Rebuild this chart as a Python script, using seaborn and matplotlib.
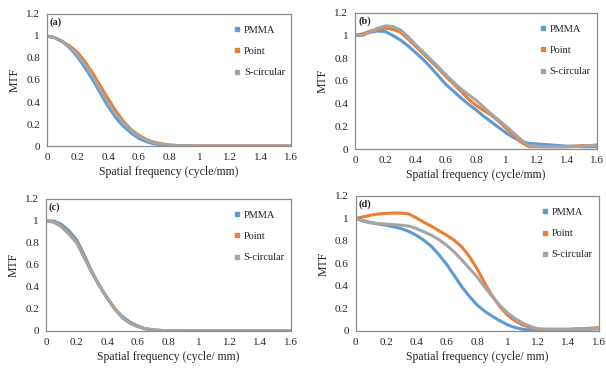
import numpy as np
import pandas as pd
import matplotlib
matplotlib.use("Agg")
import matplotlib.pyplot as plt
from matplotlib.lines import Line2D
import seaborn as sns

# spatial frequency samples (cycle/mm)
freq = np.round(np.linspace(0, 1.6, 33), 2)

# (a)
a_pmma = [1.0, 0.985, 0.95, 0.89, 0.81, 0.71, 0.60, 0.48, 0.36, 0.26, 0.18, 0.12, 0.07, 0.04, 0.02, 0.01, 0.005,
          0.002, 0.001, 0, 0, 0, 0, 0, 0, 0, 0, 0, 0, 0, 0, 0, 0]
a_point = [1.0, 0.985, 0.95, 0.91, 0.85, 0.765, 0.66, 0.545, 0.43, 0.32, 0.225, 0.15, 0.10, 0.06, 0.035, 0.02, 0.01,
           0.005, 0.002, 0.001, 0, 0, 0, 0, 0, 0, 0, 0, 0, 0, 0, 0, 0]
a_scirc = [1.0, 0.985, 0.95, 0.90, 0.83, 0.74, 0.63, 0.51, 0.39, 0.29, 0.21, 0.14, 0.09, 0.055, 0.03, 0.017, 0.008,
           0.004, 0.002, 0.001, 0, 0, 0, 0, 0, 0, 0, 0, 0, 0, 0, 0, 0]

# (b)
b_pmma = [1.0, 1.01, 1.03, 1.04, 1.035, 1.0, 0.96, 0.91, 0.85, 0.79, 0.72, 0.645, 0.57, 0.51, 0.45, 0.395, 0.345,
          0.29, 0.24, 0.19, 0.14, 0.10, 0.065, 0.05, 0.045, 0.04, 0.035, 0.03, 0.025, 0.025, 0.02, 0.02, 0.02]
b_point = [1.0, 1.015, 1.04, 1.055, 1.065, 1.055, 1.03, 0.97, 0.905, 0.84, 0.775, 0.71, 0.64, 0.575, 0.51, 0.44,
           0.385, 0.34, 0.30, 0.245, 0.18, 0.12, 0.06, 0.02, 0.02, 0.02, 0.02, 0.02, 0.02, 0.025, 0.03, 0.03, 0.035]
b_scirc = [1.0, 1.0, 1.03, 1.065, 1.085, 1.08, 1.05, 0.99, 0.92, 0.855, 0.79, 0.725, 0.655, 0.59, 0.53, 0.48,
           0.43, 0.37, 0.31, 0.255, 0.20, 0.14, 0.08, 0.03, 0.025, 0.02, 0.02, 0.02, 0.02, 0.02, 0.025, 0.03, 0.03]

# (c)
c_pmma = [1.0, 1.0, 0.97, 0.91, 0.83, 0.69, 0.54, 0.41, 0.30, 0.20, 0.13, 0.08, 0.045, 0.02, 0.01, 0.005, 0.002,
          0.001, 0, 0, 0, 0, 0, 0, 0, 0, 0, 0, 0, 0, 0, 0, 0]
c_point = [1.0, 0.99, 0.95, 0.89, 0.81, 0.67, 0.53, 0.41, 0.30, 0.20, 0.12, 0.07, 0.04, 0.02, 0.01, 0.005, 0.002,
           0.001, 0, 0, 0, 0, 0, 0, 0, 0, 0, 0, 0, 0, 0, 0, 0]
c_scirc = [1.0, 0.99, 0.95, 0.88, 0.80, 0.67, 0.53, 0.41, 0.30, 0.20, 0.12, 0.07, 0.04, 0.02, 0.01, 0.005, 0.002,
           0.001, 0, 0, 0, 0, 0, 0, 0, 0, 0, 0, 0, 0, 0, 0, 0]

# (d)
d_pmma = [1.0, 0.98, 0.965, 0.95, 0.94, 0.925, 0.91, 0.885, 0.85, 0.805, 0.75, 0.675, 0.59, 0.49, 0.39, 0.305,
          0.23, 0.175, 0.13, 0.09, 0.055, 0.03, 0.015, 0.008, 0.005, 0.005, 0.005, 0.008, 0.01, 0.01, 0.012,
          0.015, 0.02]
d_point = [1.0, 1.015, 1.03, 1.04, 1.046, 1.048, 1.048, 1.04, 1.005, 0.965, 0.93, 0.89, 0.85, 0.805, 0.745, 0.66,
           0.55, 0.425, 0.31, 0.215, 0.14, 0.09, 0.053, 0.03, 0.015, 0.015, 0.015, 0.015, 0.015, 0.02, 0.02,
           0.025, 0.03]
d_scirc = [1.0, 0.975, 0.96, 0.955, 0.95, 0.945, 0.94, 0.933, 0.91, 0.88, 0.85, 0.81, 0.76, 0.70, 0.63, 0.555,
           0.48, 0.39, 0.305, 0.225, 0.16, 0.11, 0.07, 0.04, 0.02, 0.015, 0.015, 0.015, 0.015, 0.015, 0.015,
           0.02, 0.02]

series_names = ["PMMA", "Point", "S-circular"]
colors = {"PMMA": "#5B9BD5", "Point": "#ED7D31", "S-circular": "#A5A5A5"}

panels = [
    ("(a)", "Spatial frequency (cycle/mm)", [a_pmma, a_point, a_scirc], [0.0776, 0.6096, 0.403, 0.353]),
    ("(b)", "Spatial frequency (cycle/mm)", [b_pmma, b_point, b_scirc], [0.586, 0.6016, 0.399, 0.364]),
    ("(c)", "Spatial frequency (cycle/ mm)", [c_pmma, c_point, c_scirc], [0.0759, 0.115, 0.404, 0.353]),
    ("(d)", "Spatial frequency (cycle/ mm)", [d_pmma, d_point, d_scirc], [0.587, 0.115, 0.401, 0.361]),
]

sns.set_style("white")
plt.rcParams["font.family"] = ["Liberation Serif", "DejaVu Serif"]

fig = plt.figure(figsize=(6.06, 3.74), dpi=100)

xticks = [0, 0.2, 0.4, 0.6, 0.8, 1.0, 1.2, 1.4, 1.6]
xticklabels = ["0", "0.2", "0.4", "0.6", "0.8", "1", "1.2", "1.4", "1.6"]
yticks = [0, 0.2, 0.4, 0.6, 0.8, 1.0, 1.2]
yticklabels = ["0", "0.2", "0.4", "0.6", "0.8", "1", "1.2"]

for tag, xlab, vals, pos in panels:
    ax = fig.add_axes(pos)
    df = pd.DataFrame({
        "freq": np.tile(freq, 3),
        "mtf": np.concatenate(vals),
        "sample": np.repeat(series_names, len(freq)),
    })
    sns.lineplot(data=df, x="freq", y="mtf", hue="sample", palette=colors,
                 linewidth=2.2, legend=False, ax=ax)
    ax.set_xlim(0, 1.6)
    ax.set_ylim(0, 1.2)
    ax.set_xticks(xticks)
    ax.set_xticklabels(xticklabels)
    ax.set_yticks(yticks)
    ax.set_yticklabels(yticklabels)
    ax.tick_params(length=0, labelsize=8, pad=5)
    ax.set_xlabel(xlab, fontsize=8.5, labelpad=3)
    ax.set_ylabel("MTF", fontsize=8.5, labelpad=4)
    for s in ax.spines.values():
        s.set_color("#8c8c8c")
        s.set_linewidth(0.9)
    ax.text(0.012, 0.975, tag, transform=ax.transAxes, va="top", ha="left",
            fontsize=7.5, fontweight="bold")
    handles = [Line2D([], [], marker="s", linestyle="", markersize=2.5,
                      color=colors[n]) for n in series_names]
    ax.legend(handles, series_names, loc="upper right", bbox_to_anchor=(1.0, 0.96),
              frameon=False, fontsize=7.5, labelspacing=1.15, handlelength=0.5,
              handletextpad=0.4, borderaxespad=0.2)

fig.savefig("out.png", dpi=100)
